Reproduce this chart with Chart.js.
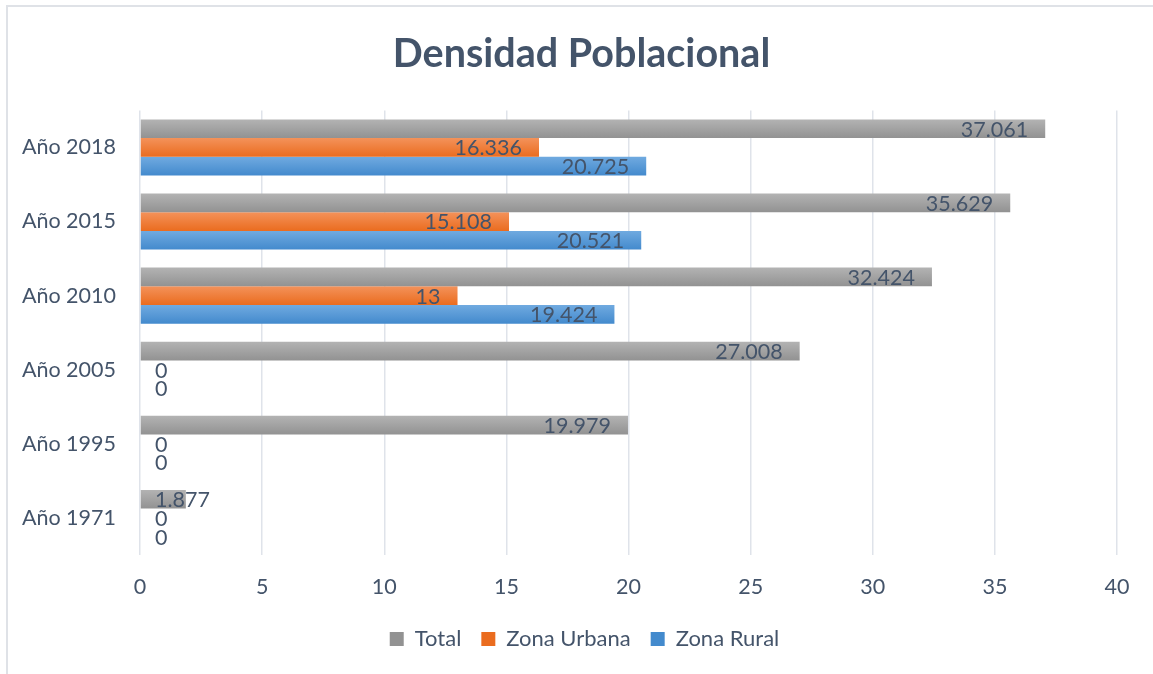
<!DOCTYPE html>
<html>
<head>
<meta charset="utf-8">
<script src="https://cdn.jsdelivr.net/npm/chart.js@4/dist/chart.umd.min.js"></script>
<style>
  html, body { margin: 0; padding: 0; background: #fff; }
  #frame {
    position: absolute; left: 6px; top: 5px; width: 1160px; height: 680px;
    border-left: 2px solid #dfe2e7; border-top: 2px solid #dfe2e7;
  }
  #wrap { position: absolute; left: 0; top: 0; width: 1153px; height: 674px; }
</style>
</head>
<body>
<div id="frame"></div>
<div id="wrap"><canvas id="chart"></canvas></div>
<script>
// Daten
const categories = ["Año 2018", "Año 2015", "Año 2010", "Año 2005", "Año 1995", "Año 1971"];
const total = [37.061, 35.629, 32.424, 27.008, 19.979, 1.877];
const zonaUrbana = [16.336, 15.108, 13, 0, 0, 0];
const zonaRural = [20.725, 20.521, 19.424, 0, 0, 0];
const xTicks = [0, 5, 10, 15, 20, 25, 30, 35, 40];

const textColor = "#44546A";
const fontFamily = "Lato, 'Open Sans', sans-serif";
const catPercent = 0.757;

// Farbverlauf pro Balken (oben hell, unten dunkel)
function barGradient(light, dark) {
  return (context) => {
    const chart = context.chart;
    const y = chart.scales.y;
    if (!chart.chartArea || !y || context.dataIndex === undefined) return dark;
    const center = y.getPixelForValue(context.dataIndex);
    const slot = y.getPixelForValue(1) - y.getPixelForValue(0);
    const group = slot * catPercent;
    const h = group / 3;
    const top = center - group / 2 + context.datasetIndex * h;
    const g = chart.ctx.createLinearGradient(0, top, 0, top + h);
    g.addColorStop(0, light);
    g.addColorStop(1, dark);
    return g;
  };
}

/* --------- DATENBESCHRIFTUNG --------- */
const valueLabels = {
  id: "valueLabels",
  afterLayout(chart) {
    // Titel und Legende etwas nach rechts, wie im Original
    if (chart.titleBlock) { chart.titleBlock.left += 18; chart.titleBlock.right += 18; }
    if (chart.legend) { chart.legend.left += 21; chart.legend.right += 21; }
  },
  afterDatasetsDraw(chart) {
    const ctx = chart.ctx;
    const x0 = chart.scales.x.getPixelForValue(0);
    ctx.save();
    ctx.font = "21.5px " + fontFamily;
    ctx.fillStyle = textColor;
    ctx.textBaseline = "middle";
    ctx.textAlign = "left";
    chart.data.datasets.forEach((ds, i) => {
      chart.getDatasetMeta(i).data.forEach((el, j) => {
        const txt = String(ds.data[j]);
        const w = ctx.measureText(txt).width;
        let left = el.x - 17 - w;
        if (left < x0 + 15) left = x0 + 15;
        ctx.fillText(txt, left, el.y + 1);
      });
    });
    ctx.restore();
  }
};

new Chart(document.getElementById("chart"), {
  type: "bar",
  data: {
    labels: categories,
    datasets: [
      { label: "Total", data: total, backgroundColor: barGradient("#b3b3b3", "#929292") },
      { label: "Zona Urbana", data: zonaUrbana, backgroundColor: barGradient("#f4925a", "#ea6c1f") },
      { label: "Zona Rural", data: zonaRural, backgroundColor: barGradient("#70aae0", "#438acd") }
    ]
  },
  options: {
    indexAxis: "y",
    responsive: true,
    maintainAspectRatio: false,
    animation: false,
    datasets: { bar: { categoryPercentage: catPercent, barPercentage: 1.0 } },
    layout: { padding: { left: 10, right: 36, top: 9, bottom: 14 } },
    scales: {
      x: {
        min: 0, max: 40,
        afterBuildTicks: (scale) => { scale.ticks = xTicks.map(v => ({ value: v })); },
        afterFit: (scale) => { scale.height = 53; },
        grid: { color: "#dfe3ea", lineWidth: 1.5, drawTicks: false },
        border: { display: false },
        ticks: { color: textColor, font: { size: 21.5, family: fontFamily }, padding: 19 }
      },
      y: {
        afterFit: (scale) => { scale.width = 130; },
        grid: { display: false },
        border: { display: false },
        ticks: { color: textColor, font: { size: 21.5, family: fontFamily }, padding: 16 }
      }
    },
    plugins: {
      title: {
        display: true,
        text: "Densidad Poblacional",
        color: textColor,
        font: { size: 39.5, weight: "bold", family: fontFamily },
        padding: { top: 22, bottom: 32 }
      },
      legend: {
        position: "bottom",
        labels: {
          color: textColor,
          font: { size: 22, family: fontFamily },
          boxWidth: 14, boxHeight: 14,
          padding: 20
        }
      },
      tooltip: { enabled: false }
    }
  },
  plugins: [valueLabels]
});
</script>
</body>
</html>
